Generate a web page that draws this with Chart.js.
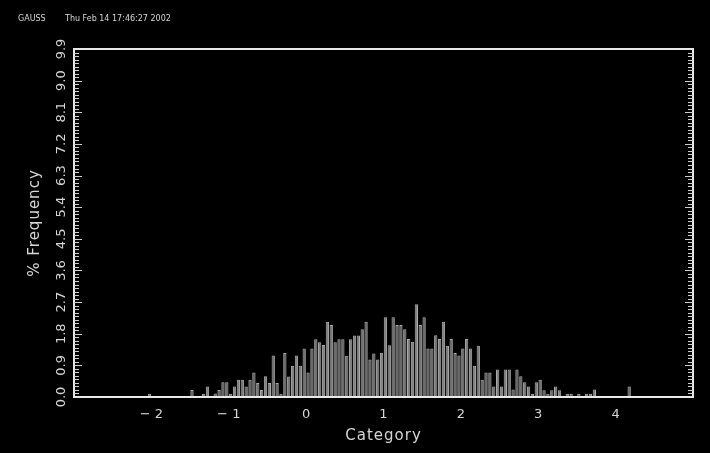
<!DOCTYPE html>
<html>
<head>
<meta charset="utf-8">
<script src="https://cdn.jsdelivr.net/npm/chart.js@4"></script>
<style>
  html, body { margin: 0; padding: 0; background: #000; }
  canvas { display: block; }
</style>
</head>
<body>
<canvas id="myChart" width="710" height="453"></canvas>
<script>
// bin centres of the histogram (bin width 0.05)
const binCenters = [
  -2.025, -1.975, -1.925, -1.875, -1.825, -1.775, -1.725, -1.675, -1.625, -1.575,
  -1.525, -1.475, -1.425, -1.375, -1.325, -1.275, -1.225, -1.175, -1.125, -1.075,
  -1.025, -0.975, -0.925, -0.875, -0.825, -0.775, -0.725, -0.675, -0.625, -0.575,
  -0.525, -0.475, -0.425, -0.375, -0.325, -0.275, -0.225, -0.175, -0.125, -0.075,
  -0.025, 0.025, 0.075, 0.125, 0.175, 0.225, 0.275, 0.325, 0.375, 0.425,
  0.475, 0.525, 0.575, 0.625, 0.675, 0.725, 0.775, 0.825, 0.875, 0.925,
  0.975, 1.025, 1.075, 1.125, 1.175, 1.225, 1.275, 1.325, 1.375, 1.425,
  1.475, 1.525, 1.575, 1.625, 1.675, 1.725, 1.775, 1.825, 1.875, 1.925,
  1.975, 2.025, 2.075, 2.125, 2.175, 2.225, 2.275, 2.325, 2.375, 2.425,
  2.475, 2.525, 2.575, 2.625, 2.675, 2.725, 2.775, 2.825, 2.875, 2.925,
  2.975, 3.025, 3.075, 3.125, 3.175, 3.225, 3.275, 3.325, 3.375, 3.425,
  3.475, 3.525, 3.575, 3.625, 3.675, 3.725, 3.775, 3.825, 3.875, 3.925,
  3.975, 4.025, 4.075, 4.125, 4.175
];

// % frequency per bin
const frequency = [
  0.09, 0.02, 0.02, 0.02, 0.02, 0.02, 0.02, 0.02, 0.02, 0.02,
  0.02, 0.20, 0, 0, 0.09, 0.30, 0, 0.10, 0.20, 0.42,
  0.42, 0.09, 0.30, 0.49, 0.49, 0.30, 0.49, 0.70, 0.40, 0.20,
  0.59, 0.40, 1.18, 0.40, 0.09, 1.25, 0.58, 0.89, 1.18, 0.89,
  1.38, 0.70, 1.38, 1.64, 1.56, 1.48, 2.14, 2.05, 1.56, 1.64,
  1.64, 1.17, 1.64, 1.75, 1.75, 1.93, 2.14, 1.07, 1.24, 1.07,
  1.26, 2.27, 1.47, 2.27, 2.05, 2.05, 1.93, 1.65, 1.57, 2.64,
  2.05, 2.27, 1.38, 1.38, 1.76, 1.65, 2.14, 1.46, 1.65, 1.25,
  1.18, 1.38, 1.65, 1.38, 0.89, 1.46, 0.49, 0.70, 0.70, 0.30,
  0.78, 0.30, 0.78, 0.78, 0.21, 0.78, 0.59, 0.42, 0.30, 0.09,
  0.42, 0.49, 0.19, 0.09, 0.19, 0.30, 0.19, 0.02, 0.09, 0.09,
  0.02, 0.09, 0.02, 0.09, 0.09, 0.21, 0.02, 0.02, 0.02, 0,
  0, 0, 0, 0, 0.30
];

const xTicks = [-2, -1, 0, 1, 2, 3, 4];
const yTicks = ['0.0', '0.9', '1.8', '2.7', '3.6', '4.5', '5.4', '6.3', '7.2', '8.1', '9.0', '9.9'];

const headerLeft = 'GAUSS';
const headerDate = 'Thu Feb 14 17:46:27 2002';

const txt = '#d6d6d6';

const gaussFrame = {
  id: 'gaussFrame',
  beforeDraw(chart) {
    const ctx = chart.ctx;
    ctx.save();
    ctx.fillStyle = '#000';
    ctx.fillRect(0, 0, chart.width, chart.height);
    ctx.restore();
  },
  afterDatasetsDraw(chart) {
    const { ctx, chartArea: a, scales } = chart;
    const x = scales.x, y = scales.y;
    ctx.save();

    // box
    ctx.strokeStyle = '#e8e8e8';
    ctx.lineWidth = 2;
    ctx.strokeRect(a.left, a.top, a.right - a.left, a.bottom - a.top);

    // minor ticks on left and right axes, every 0.1
    ctx.lineWidth = 1;
    ctx.strokeStyle = '#cfcfcf';
    for (let k = 1; k < 99; k++) {
      const py = Math.round(y.getPixelForValue(k / 10)) + 0.5;
      const len = k % 9 === 0 ? 8 : 5;
      ctx.beginPath();
      ctx.moveTo(a.left, py); ctx.lineTo(a.left + len, py);
      ctx.moveTo(a.right, py); ctx.lineTo(a.right - len, py);
      ctx.stroke();
    }

    ctx.fillStyle = txt;
    ctx.textAlign = 'center';
    ctx.textBaseline = 'middle';

    // y tick labels (rotated)
    ctx.font = '13px "DejaVu Sans"';
    yTicks.forEach(t => {
      const py = y.getPixelForValue(parseFloat(t));
      ctx.save();
      ctx.translate(a.left - 12, py);
      ctx.rotate(-Math.PI / 2);
      ctx.fillText(t, 0, 0);
      ctx.restore();
    });

    // x tick labels
    ctx.font = '13px "DejaVu Sans"';
    xTicks.forEach(v => {
      const lbl = v < 0 ? '\u2212 ' + Math.abs(v) : String(v);
      ctx.fillText(lbl, x.getPixelForValue(v), a.bottom + 18);
    });

    // axis titles
    ctx.font = '15px "DejaVu Sans"';
    ctx.letterSpacing = '1px';
    ctx.fillText('Category', (a.left + a.right) / 2, a.bottom + 39);
    ctx.save();
    ctx.translate(35, (a.top + a.bottom) / 2);
    ctx.rotate(-Math.PI / 2);
    ctx.fillText('% Frequency', 0, 0);
    ctx.restore();

    // header
    ctx.letterSpacing = '0px';
    ctx.font = '8px "DejaVu Sans"';
    ctx.textAlign = 'left';
    ctx.fillText(headerLeft, 18, 19);
    ctx.fillText(headerDate, 65, 19);

    ctx.restore();
  }
};

const ctx = document.getElementById('myChart');

const config = {
  type: 'bar',
  data: {
    datasets: [{
      label: '% Frequency',
      data: binCenters.map((c, i) => ({ x: c, y: frequency[i] })),
      backgroundColor: '#828282',
      borderColor: '#ababab',
      borderWidth: 1,
      barPercentage: 0.85,
      categoryPercentage: 1.0
    }]
  },
  options: {
    responsive: false,
    animation: false,
    layout: { padding: { left: 74, right: 17, top: 49, bottom: 56 } },
    plugins: {
      legend: { display: false },
      tooltip: { enabled: false }
    },
    scales: {
      x: { type: 'linear', min: -3, max: 5, offset: false, display: false },
      y: { min: 0, max: 9.9, display: false }
    }
  },
  plugins: [gaussFrame]
};

const myChart = new Chart(ctx, config);
</script>
</body>
</html>
